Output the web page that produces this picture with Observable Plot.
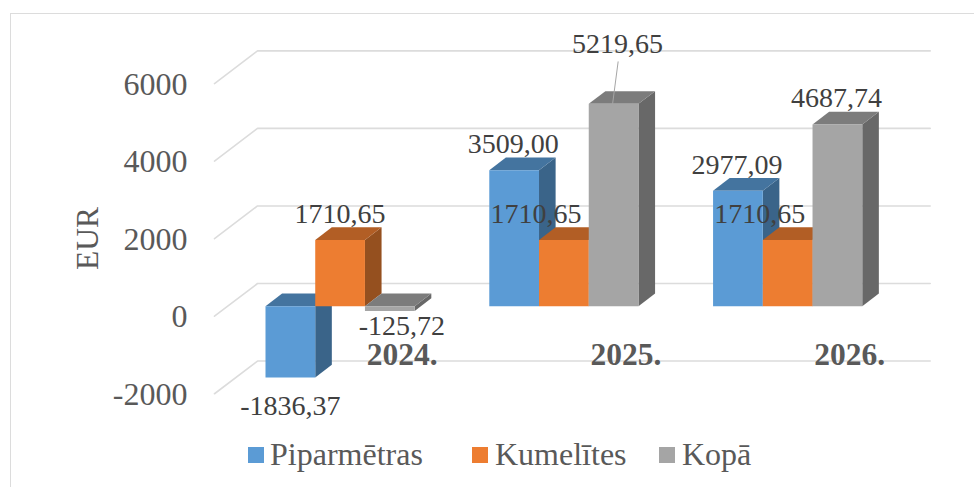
<!DOCTYPE html>
<html>
<head>
<meta charset="utf-8">
<script src="https://cdn.jsdelivr.net/npm/d3@7"></script>
<script src="https://cdn.jsdelivr.net/npm/@observablehq/plot@0.6"></script>
<style>
html,body{margin:0;padding:0;background:#fff}
#wrap{position:relative;width:974px;height:487px;overflow:hidden;font-family:"Liberation Serif",serif}
#frame{position:absolute;left:9.5px;top:13px;right:-5px;bottom:-5px;border-left:1.5px solid #dcdcdc;border-top:1.5px solid #dcdcdc}
#chart{position:absolute;left:0;top:0}
#legend span{position:absolute;white-space:nowrap}
.sw{width:16px;height:16px;top:447px}
.lt{font-size:32px;line-height:32px;top:438px;color:#595959}
</style>
</head>
<body>
<div id="wrap"><div id="frame"></div><div id="chart"></div><div id="legend"></div></div>
<script>
const years = ["2024.", "2025.", "2026."];
const seriesNames = ["Piparmētras", "Kumelītes", "Kopā"];
const piparmetras = [-1836.37, 3509.00, 2977.09];
const kumelites = [1710.65, 1710.65, 1710.65];
const kopa = [-125.72, 5219.65, 4687.74];
const labelTexts = [
  ["-1836,37", "3509,00", "2977,09"],
  ["1710,65", "1710,65", "1710,65"],
  ["-125,72", "5219,65", "4687,74"]
];
const yTicks = [-2000, 0, 2000, 4000, 6000];

const frontColors = ["#5B9BD5", "#ED7D31", "#A5A5A5"];
const topColors = ["#44749F", "#B25E25", "#7C7C7C"];
const sideColors = ["#3A6489", "#95501F", "#686868"];

// geometry of the fake-3D projection, expressed as scale units
const barPx = 49.73, unitPx = 0.03877;
const px2u = p => p / barPx, px2v = p => p / unitPx;
const groupStep = 4.5;
const depthX = px2u(16.6), depthY = px2v(12.7);
const backV = px2v(22.7), frontV = px2v(10), wallLeftU = px2u(-51), wallBackU = px2u(-8), wallEndU = px2u(664.7);
const values = [piparmetras, kumelites, kopa];

// label displacement from the bar centre / top in pixels [dx, dy]
const labelShift = [
  [[0, 29], [-1, -26], [-1, -26]],
  [[0, -26], [-28, -26], [-28, -26]],
  [[12, 15], [4, -60], [-1, -26]]
];

const polys = [], labels = [];
values.forEach((vals, s) => vals.forEach((v, g) => {
  const x0 = g * groupStep + s, x1 = x0 + 1;
  const hi = Math.max(v, 0), lo = Math.min(v, 0);
  const add = (face, color, pts) => pts.forEach(([x, y]) => polys.push({id: `${g}-${s}-${face}`, x, y, color}));
  add("side", sideColors[s], [[x1, lo], [x1 + depthX, lo + depthY], [x1 + depthX, hi + depthY], [x1, hi]]);
  add("top", topColors[s], [[x0, hi], [x1, hi], [x1 + depthX, hi + depthY], [x0 + depthX, hi + depthY]]);
  add("front", frontColors[s], [[x0, lo], [x1, lo], [x1, hi], [x0, hi]]);
  const [dx, dy] = labelShift[s][g];
  labels.push({text: labelTexts[s][g], x: x0 + 0.5 + px2u(dx), y: v - px2v(dy)});
}));

const grid = yTicks.flatMap(t => [
  {t, x: wallLeftU, y: t - frontV},
  {t, x: wallBackU, y: t + backV},
  {t, x: wallEndU, y: t + backV}
]);

const leader = [
  {x: 1 * groupStep + 2 + 0.5 + px2u(4.5), y: kopa[1] + px2v(42)},
  {x: 1 * groupStep + 2 + 0.5 + px2u(-1), y: kopa[1]}
];

const catLabels = years.map((text, g) => ({text, x: g * groupStep + 1.5 + px2u(62), y: px2v(305.7 - 354)}));

const chart = Plot.plot({
  width: 974, height: 487,
  marginLeft: 187, marginRight: 0, marginTop: 0, marginBottom: 0,
  x: {domain: [px2u(187 - 265), px2u(974 - 265)], range: [187, 974], axis: null},
  y: {domain: [px2v(305.7 - 487), px2v(305.7)], range: [487, 0], axis: null},
  color: {type: "identity"},
  style: {fontFamily: "Liberation Serif", background: "transparent", overflow: "visible", color: "#595959"},
  marks: [
    Plot.line(grid, {x: "x", y: "y", z: "t", stroke: "#dcdcdc", strokeWidth: 1.6}),
    Plot.line(polys, {x: "x", y: "y", z: "id", fill: "color", stroke: null}),
    Plot.line(leader, {x: "x", y: "y", stroke: "#a6a6a6", strokeWidth: 1}),
    Plot.axisY({ticks: yTicks, tickSize: 0, tickPadding: 0, tickFormat: d => String(d), fontSize: 32, label: null, dy: 11, anchor: "left"}),
    Plot.text(["EUR"], {x: px2u(87 - 265), y: px2v(305.7 - 238), text: d => d, rotate: -90, fontSize: 31.5, fill: "#595959"}),
    Plot.text(catLabels, {x: "x", y: "y", text: "text", fontSize: 31.5, fontWeight: "bold", fill: "#595959"}),
    Plot.text(labels, {x: "x", y: "y", text: "text", fontSize: 28, fill: "#404040"})
  ]
});
document.getElementById("chart").appendChild(chart);

const legendX = [[248, 270], [472, 495], [659, 682]];
const legend = document.getElementById("legend");
seriesNames.forEach((name, i) => {
  const sw = document.createElement("span");
  sw.className = "sw"; sw.style.left = legendX[i][0] + "px"; sw.style.background = frontColors[i];
  const t = document.createElement("span");
  t.className = "lt"; t.style.left = legendX[i][1] + "px"; t.textContent = name;
  legend.append(sw, t);
});
</script>
</body>
</html>
